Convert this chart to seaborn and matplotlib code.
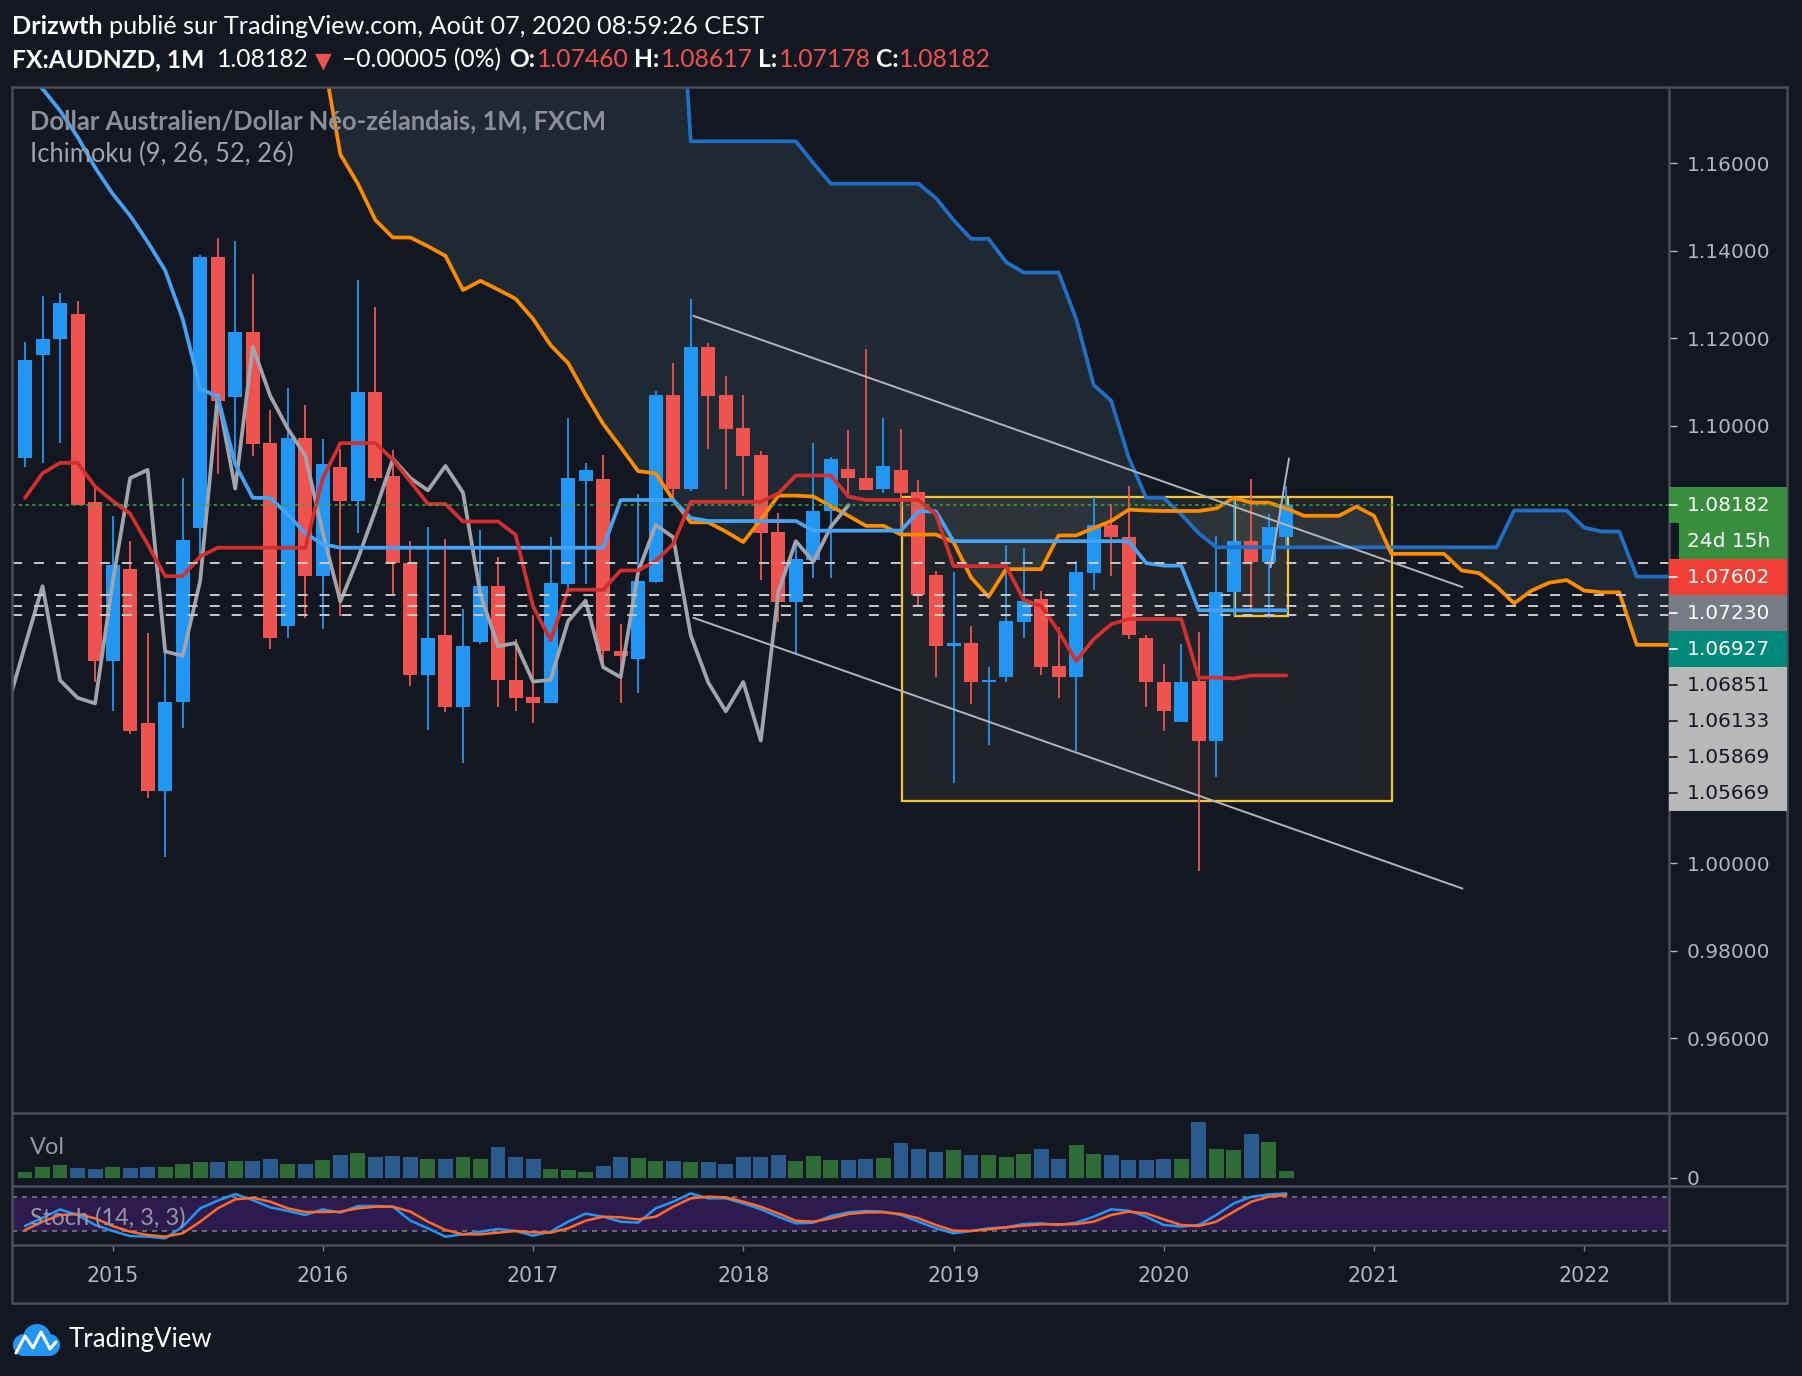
import numpy as np
import pandas as pd
import matplotlib
matplotlib.use("Agg")
import matplotlib.pyplot as plt
import seaborn as sns
from matplotlib.patches import Rectangle, Circle
from matplotlib.lines import Line2D

# ---------------- data ----------------
first_year, first_month = 2014, 8          # first candle: Aug 2014, monthly
opens = [1.0927, 1.1162, 1.1197, 1.1256, 1.0826, 1.0463, 1.0673, 1.0321, 1.0164, 1.0368,
         1.0765, 1.1386, 1.1066, 1.1214, 1.0960, 1.0543, 1.0972, 1.0657, 1.0906, 1.0827,
         1.1077, 1.0885, 1.0686, 1.0431, 1.0522, 1.0358, 1.0506, 1.0633, 1.0419, 1.0380,
         1.0365, 1.0639, 1.0874, 1.0879, 1.0485, 1.0466, 1.0643, 1.1070, 1.0855, 1.1180,
         1.1070, 1.0995, 1.0933, 1.0757, 1.0598, 1.0694, 1.0804, 1.0901, 1.0880, 1.0856,
         1.0899, 1.0849, 1.0659, 1.0496, 1.0503, 1.0413, 1.0425, 1.0552, 1.0604, 1.0451,
         1.0425, 1.0664, 1.0773, 1.0746, 1.0515, 1.0414, 1.0322, 1.0417, 1.0280, 1.0619,
         1.0736, 1.0689, 1.07460]
highs = [1.1191, 1.1296, 1.1304, 1.1286, 1.0867, 1.0794, 1.0736, 1.0527, 1.0515, 1.0880,
         1.1391, 1.1429, 1.1422, 1.1347, 1.1036, 1.1086, 1.1047, 1.0970, 1.0946, 1.1333,
         1.1271, 1.0945, 1.0736, 1.0768, 1.0741, 1.0581, 1.0762, 1.0700, 1.0513, 1.0568,
         1.0746, 1.1018, 1.0915, 1.0933, 1.0547, 1.0844, 1.1080, 1.1143, 1.1289, 1.1189,
         1.1113, 1.1070, 1.0942, 1.0801, 1.0727, 1.0960, 1.0929, 1.0990, 1.1176, 1.1018,
         1.0992, 1.0876, 1.0667, 1.0666, 1.0542, 1.0449, 1.0727, 1.0721, 1.0623, 1.0540,
         1.0691, 1.0838, 1.0821, 1.0862, 1.0522, 1.0455, 1.0501, 1.0528, 1.0748, 1.0829,
         1.0879, 1.0799, 1.08617]
lows = [1.0905, 1.0915, 1.0960, 1.0818, 1.0415, 1.0347, 1.0295, 1.0150, 1.0013, 1.0308,
        1.0701, 1.0890, 1.0914, 1.0931, 1.0490, 1.0514, 1.0561, 1.0535, 1.0564, 1.0754,
        1.0874, 1.0614, 1.0404, 1.0305, 1.0345, 1.0229, 1.0500, 1.0358, 1.0347, 1.0320,
        1.0365, 1.0624, 1.0637, 1.0460, 1.0365, 1.0390, 1.0641, 1.0830, 1.0850, 1.0946,
        1.0856, 1.0840, 1.0648, 1.0552, 1.0479, 1.0652, 1.0652, 1.0835, 1.0852, 1.0847,
        1.0749, 1.0585, 1.0426, 1.0184, 1.0364, 1.0269, 1.0415, 1.0515, 1.0431, 1.0377,
        1.0256, 1.0625, 1.0657, 1.0513, 1.0358, 1.0301, 1.0322, 0.9981, 1.0196, 1.0566,
        1.0577, 1.0560, 1.07178]
closes = [1.1150, 1.1198, 1.1281, 1.0818, 1.0463, 1.0681, 1.0301, 1.0164, 1.0369, 1.0739,
          1.1386, 1.1056, 1.1214, 1.0959, 1.0514, 1.0972, 1.0657, 1.0912, 1.0828, 1.1077,
          1.0881, 1.0685, 1.0431, 1.0515, 1.0358, 1.0497, 1.0633, 1.0418, 1.0378, 1.0365,
          1.0641, 1.0880, 1.0899, 1.0484, 1.0474, 1.0645, 1.1070, 1.0856, 1.1180, 1.1068,
          1.0993, 1.0931, 1.0755, 1.0598, 1.0696, 1.0806, 1.0924, 1.0880, 1.0852, 1.0908,
          1.0847, 1.0614, 1.0496, 1.0503, 1.0415, 1.0419, 1.0553, 1.0600, 1.0448, 1.0425,
          1.0666, 1.0773, 1.0745, 1.0521, 1.0413, 1.0347, 1.0414, 1.0280, 1.0620, 1.0736,
          1.0689, 1.0769, 1.08182]
volumes = [18, 33, 39, 30, 27, 33, 30, 33, 33, 42, 48, 48, 51, 51, 57, 42, 42, 54, 69, 75,
           63, 66, 63, 57, 57, 63, 57, 93, 63, 57, 27, 24, 18, 36, 63, 60, 51, 51, 48, 48,
           42, 63, 63, 69, 51, 66, 54, 54, 57, 60, 105, 87, 78, 84, 69, 69, 63, 72, 87, 57,
           99, 72, 69, 54, 54, 57, 57, 168, 87, 84, 132, 108, 21]
stoch_k = [28.7, 43, 57.8, 48, 30.5, 20, 11.2, 10.1, 7.2, 27.6, 59.6, 73, 84.6, 74.1, 61.3,
           55, 48, 57.9, 52, 63.7, 63.7, 62.5, 38, 24.7, 10.1, 14.2, 18.8, 23.5, 20, 11.8,
           18.8, 36.3, 50.3, 45, 36.3, 34.6, 59.6, 71.2, 85.8, 77.1, 77.1, 68.3, 57.9, 45,
           33.4, 34.6, 46.2, 52.6, 55, 53.8, 48, 36.3, 24.7, 16, 20, 24.7, 26.4, 32.2, 33.4,
           30.5, 34.6, 45, 57.9, 55.6, 45, 30.5, 27.6, 30.5, 48, 68.3, 80, 84, 85.8]
stoch_d = [21.8, 36.3, 48, 49.7, 42.1, 28.7, 18.8, 13, 10.1, 16, 36.3, 59.6, 75.3, 78.2, 71.2,
           59.6, 53.2, 53.2, 53.8, 59.6, 62.5, 62.5, 53.8, 36.3, 21.8, 14.2, 14.2, 17.1, 20,
           17.7, 17.1, 24.7, 38, 45, 43.9, 40.4, 45, 62.5, 77.1, 80, 78.8, 71.2, 62.5, 50.8,
           38, 36.3, 42.1, 49.7, 52.6, 52.6, 49.7, 42.1, 30.5, 20.6, 20, 22.9, 26.4, 29.3,
           31.6, 31.6, 32.2, 36.3, 48, 53.8, 50.8, 40.4, 30.5, 28.7, 36.3, 53.8, 71.2, 80, 82.9]
tenkan = [1.0835, 1.0891, 1.0915, 1.0915, 1.0861, 1.0828, 1.0799, 1.0729, 1.0656, 1.0656,
          1.0701, 1.0721, 1.0721, 1.0721, 1.0721, 1.0721, 1.0721, 1.0880, 1.0960, 1.0960,
          1.0960, 1.0922, 1.0872, 1.0821, 1.0821, 1.0781, 1.0781, 1.0781, 1.0751, 1.0587,
          1.0510, 1.0625, 1.0625, 1.0625, 1.0669, 1.0669, 1.0691, 1.0729, 1.0826, 1.0826,
          1.0826, 1.0826, 1.0826, 1.0845, 1.0886, 1.0886, 1.0886, 1.0838, 1.0830, 1.0830,
          1.0830, 1.0830, 1.0797, 1.0679, 1.0679, 1.0679, 1.0679, 1.0602, 1.0588, 1.0530,
          1.0462, 1.0512, 1.0546, 1.0558, 1.0558, 1.0558, 1.0558, 1.0424, 1.0424, 1.0422,
          1.0429, 1.0429, 1.0429]
kijun = ([1.1800, 1.1770, 1.1720, 1.1660, 1.1590, 1.1530, 1.1480, 1.1420, 1.1355, 1.1244,
          1.1085, 1.1066, 1.0912, 1.0835, 1.0835, 1.0797, 1.0754, 1.0729]
         + [1.0721] * 16 + [1.0830] * 4 + [1.0789] + [1.0782] * 6 + [1.0760] * 6
         + [1.0804] * 2 + [1.0736] * 11 + [1.0686, 1.0680, 1.0680] + [1.0578] * 6)
span_first = 15                              # month index of the first cloud point
senkou_a = [1.2200, 1.2000, 1.1850, 1.1620, 1.1553, 1.1470, 1.1430, 1.1430, 1.1410, 1.1388,
            1.1310, 1.1331, 1.1311, 1.1290, 1.1244, 1.1184, 1.1143, 1.1071, 1.1004, 1.0951,
            1.0896, 1.0891, 1.0830, 1.0779, 1.0779, 1.0758, 1.0734, 1.0785, 1.0840, 1.0840,
            1.0838, 1.0816, 1.0794, 1.0771, 1.0771, 1.0751, 1.0751, 1.0751, 1.0734, 1.0653,
            1.0609, 1.0672, 1.0672, 1.0672, 1.0749, 1.0749, 1.0766, 1.0782, 1.0808, 1.0806,
            1.0805, 1.0805, 1.0805, 1.0811, 1.0835, 1.0824, 1.0824, 1.0811, 1.0794, 1.0794,
            1.0794, 1.0815, 1.0794, 1.0707, 1.0707, 1.0707, 1.0707, 1.0669, 1.0663, 1.0632,
            1.0594, 1.0623, 1.0641, 1.0647, 1.0623, 1.0619, 1.0619, 1.0499, 1.0499, 1.0499]
senkou_b = ([1.2300] * 23 + [1.1650] * 7 + [1.1600] + [1.1553] * 6
            + [1.1520, 1.1470, 1.1427, 1.1427, 1.1374, 1.1350, 1.1350, 1.1350, 1.1244, 1.1093,
               1.1057, 1.0927, 1.0835, 1.0835, 1.0797, 1.0754]
            + [1.0722] * 17 + [1.0806] * 4 + [1.0767, 1.0758, 1.0758] + [1.0655] * 3)
chikou_displacement = 25
year_labels = ["2015", "2016", "2017", "2018", "2019", "2020", "2021", "2022"]
price_ticks = [0.96, 0.98, 1.00, 1.10, 1.12, 1.14, 1.16]   # others are under the labels
h_levels = [1.06851, 1.06133, 1.05869, 1.05669]
last_price = 1.08182
channel_upper = ([38.15, 82.05], [1.1251, 1.0631])
channel_lower = ([38.15, 82.05], [1.0561, 0.9942])
short_line = ([71.1, 72.15], [1.0676, 1.0925])
box_big = (50.05, 78.05, 1.0141, 1.0838)
box_small = (69.06, 72.1, 1.0565, 1.0838)
price_labels = [("1.08182", 1.08182, "#388e3c", "white", 0.0),
                ("24d 15h", None, "#388e3c", "white", 0.082),
                ("1.07602", 1.07602, "#f23f35", "white", 0.0),
                ("1.07230", 1.07230, "#787b86", "white", 0.0),
                ("1.06927", 1.06927, "#00897b", "white", 0.0),
                ("1.06851", 1.06851, "#b9b9b9", "#131722", 0.0),
                ("1.06133", 1.06133, "#b9b9b9", "#131722", 0.0),
                ("1.05869", 1.05869, "#b9b9b9", "#131722", 0.0),
                ("1.05669", 1.05669, "#b9b9b9", "#131722", 0.0)]

# ---------------- style ----------------
BG = "#131722"
BORDER = "#4a4d57"
AXTXT = "#b2b5be"
UP, DOWN = "#2196f3", "#ef5350"
sns.set_theme(style="dark", rc={"axes.facecolor": BG, "figure.facecolor": BG,
                                "savefig.facecolor": BG, "axes.grid": False})
FONT = ["Lato", "DejaVu Sans"]
plt.rcParams["font.family"] = FONT
AXFONT = ["DejaVu Sans"]

W, H = 1802, 1376
def fx(px):
    return px / W
def fy(py):
    return 1 - py / H

fig = plt.figure(figsize=(W / 100, H / 100), dpi=100)
LEFT, RIGHT, RIGHT_END = 12, 1669, 1787
TOP, MAIN_B, VOL_B, STO_B, XAX_B = 87, 1113, 1186, 1245, 1303
XLIM = (-0.742, 93.84)
YLIM = (0.9429, 1.1774)

ax = fig.add_axes([fx(LEFT), fy(MAIN_B), fx(RIGHT) - fx(LEFT), (MAIN_B - TOP) / H])
axv = fig.add_axes([fx(LEFT), fy(VOL_B), fx(RIGHT) - fx(LEFT), (VOL_B - MAIN_B) / H])
axs = fig.add_axes([fx(LEFT), fy(STO_B), fx(RIGHT) - fx(LEFT), (STO_B - VOL_B) / H])
axx = fig.add_axes([fx(LEFT), fy(XAX_B), fx(RIGHT) - fx(LEFT), (XAX_B - STO_B) / H])
axr = fig.add_axes([fx(RIGHT), fy(MAIN_B), fx(RIGHT_END) - fx(RIGHT), (MAIN_B - TOP) / H])
for a in (ax, axv, axs, axx, axr):
    a.set_facecolor(BG)
    for s in a.spines.values():
        s.set_visible(False)
    a.set_xlim(*XLIM)
axr.set_xlim(0, 1)
axr.set_zorder(10)
axr.patch.set_visible(False)

n = len(closes)
x = np.arange(n)
o, h, l, c = map(np.asarray, (opens, highs, lows, closes))
up = c >= o
ccol = np.where(up, UP, DOWN)

# ---- main panel ----
xs = np.arange(span_first, span_first + len(senkou_a))
ax.fill_between(xs, senkou_a, senkou_b, color="#1f2934", lw=0, zorder=1)
for (x0, x1, y0, y1) in (box_big, box_small):
    ax.add_patch(Rectangle((x0, y0), x1 - x0, y1 - y0, facecolor=(0.78, 0.72, 0.55, 0.08),
                           edgecolor="#f4c430", lw=1.6, zorder=1.5))
ax.vlines(x, l, h, colors=ccol, lw=1.3, zorder=3)
ax.bar(x, np.maximum(np.abs(c - o), 0.0004), bottom=np.minimum(o, c), width=0.8,
       color=ccol, linewidth=0, zorder=3.1)

LW = 2.7
sns.lineplot(x=xs, y=senkou_b, ax=ax, color="#1f6fc5", lw=LW, zorder=4, estimator=None)
sns.lineplot(x=xs, y=senkou_a, ax=ax, color="#fb8c00", lw=LW, zorder=4, estimator=None)
sns.lineplot(x=x - chikou_displacement, y=closes, ax=ax, color="#a3a3ab", lw=LW, zorder=4,
             estimator=None)
sns.lineplot(x=x, y=kijun, ax=ax, color="#45a3f3", lw=LW, zorder=4.1, estimator=None)
sns.lineplot(x=x, y=tenkan, ax=ax, color="#d32f2f", lw=LW, zorder=4.2, estimator=None)

for lv in h_levels:
    ax.axhline(lv, color="#c8c8c8", lw=1.4, ls=(0, (5.1, 6.2)), zorder=5)
ax.axhline(last_price, color="#43a047", lw=1.1, ls=(0, (2.2, 2.2)), zorder=5)
for (lx, ly) in (channel_upper, channel_lower, short_line):
    sns.lineplot(x=lx, y=ly, ax=ax, color="#b2b5be", lw=1.4, zorder=5, estimator=None)

ax.set_ylim(*YLIM)
ax.set_xticks([])
ax.yaxis.tick_right()
ax.set_yticks(price_ticks)
ax.set_yticklabels([f"{t:.5f}" for t in price_ticks], fontfamily=AXFONT)
ax.tick_params(axis="y", colors=AXTXT, labelsize=14.5, length=5.8, width=1, pad=7)
ax.set_xlabel("")
ax.set_ylabel("")

# ---- stacked price labels on the scale ----
axr.set_ylim(*YLIM)
axr.set_xticks([])
axr.set_yticks([])
lab_h = 36 / 4375
prev = None
for txt, val, fc, tc, x0 in price_labels:
    if val is None:
        cen = prev - lab_h
    elif prev is None:
        cen = val
    else:
        cen = min(val, prev - lab_h)
    axr.add_patch(Rectangle((x0, cen - lab_h / 2), 1 - x0, lab_h, facecolor=fc,
                            edgecolor="none", zorder=2))
    if val is not None:
        axr.plot([0, 0.065], [cen, cen], color=tc, lw=1.2, zorder=3)
    axr.text(0.155, cen, txt, color=tc, fontsize=14.5, fontfamily=AXFONT, va="center",
             ha="left", zorder=4)
    prev = cen

# ---- volume panel ----
axv.bar(x, volumes, width=0.85, color=np.where(up, "#2e6b37", "#2b5b8d"), linewidth=0)
axv.set_ylim(-24, 194)
axv.set_xticks([])
axv.yaxis.tick_right()
axv.set_yticks([0])
axv.set_yticklabels(["0"], fontfamily=AXFONT)
axv.tick_params(axis="y", colors=AXTXT, labelsize=14.5, length=5.8, width=1, pad=7)
axv.text(0.011, 0.53, "Vol", transform=axv.transAxes, color="#9598a1", fontsize=17,
         va="center", ha="left")

# ---- stochastic panel ----
axs.axhspan(20, 80, color="#2d1b4e", lw=0, zorder=0)
for lv in (20, 80):
    axs.axhline(lv, color="#787b86", lw=1.2, ls=(0, (3, 3)), zorder=1)
sns.lineplot(x=x, y=stoch_k, ax=axs, color="#2196f3", lw=1.8, zorder=3, estimator=None)
sns.lineplot(x=x, y=stoch_d, ax=axs, color="#ff6a2b", lw=1.8, zorder=3, estimator=None)
axs.set_ylim(-4.5, 98.7)
axs.set_xticks([])
axs.set_yticks([])
axs.set_xlabel("")
axs.set_ylabel("")
axs.text(0.011, 0.46, "Stoch (14, 3, 3)", transform=axs.transAxes, color="#9598a1",
         fontsize=17, va="center", ha="left", zorder=4)

# ---- time axis ----
year_pos = [(int(y) - first_year) * 12 + 1 - first_month for y in year_labels]
axx.set_ylim(0, 1)
axx.set_yticks([])
axx.set_xticks(year_pos)
axx.tick_params(axis="x", top=True, bottom=False, direction="in", length=4.5, width=1,
                colors="#787b86", labelbottom=False, labeltop=False)
for p, lab in zip(year_pos, year_labels):
    axx.text(p, 0.46, lab, color=AXTXT, fontsize=14.8, fontfamily=AXFONT, ha="center",
             va="center")

# ---- frame lines ----
for yy in (TOP, MAIN_B, VOL_B, STO_B, XAX_B):
    fig.add_artist(Line2D([fx(LEFT), fx(RIGHT_END)], [fy(yy), fy(yy)], color=BORDER, lw=1.8))
for xx in (LEFT, RIGHT, RIGHT_END):
    fig.add_artist(Line2D([fx(xx), fx(xx)], [fy(TOP), fy(XAX_B)], color=BORDER, lw=1.8))

# ---- header ----
renderer = fig.canvas.get_renderer()
def chain(pieces, x_px, base_px):
    for txt, kw, gap in pieces:
        t = fig.text(fx(x_px), fy(base_px), txt, va="baseline", ha="left", **kw)
        bb = t.get_window_extent(renderer=renderer)
        x_px = bb.x1 + gap

HDR = 18.2
HDR2 = 17.7
white = dict(color="white", fontsize=HDR)
bold = dict(color="white", fontsize=HDR, fontweight="bold")
white2 = dict(color="white", fontsize=HDR2)
bold2 = dict(color="white", fontsize=HDR2, fontweight="bold")
red2 = dict(color="#ef5350", fontsize=HDR2)
chain([("Drizwth", bold, 6),
       ("publié sur TradingView.com, Août 07, 2020 08:59:26 CEST", white, 0)], 12.5, 33.5)
chain([("FX:AUDNZD, 1M", bold2, 12),
       ("1.08182", white2, 6),
       ("▼", dict(color="#ef5350", fontsize=HDR2 - 2, family=["DejaVu Sans"]), 11),
       ("−0.00005 (0%)", white2, 8),
       ("O:", bold2, 1), ("1.07460", red2, 6),
       ("H:", bold2, 1), ("1.08617", red2, 6),
       ("L:", bold2, 1), ("1.07178", red2, 5),
       ("C:", bold2, 1), ("1.08182", red2, 0)], 12.5, 67)

fig.text(fx(30), fy(121), "Dollar Australien/Dollar Néo-zélandais, 1M, FXCM",
         color="#8c8f99", fontsize=18.4, fontweight="bold", va="center", ha="left")
fig.text(fx(30), fy(154), "Ichimoku (9, 26, 52, 26)", color="#a0a3ab", fontsize=18.4,
         va="center", ha="left")

# ---- TradingView logo ----
axl = fig.add_axes([fx(10), fy(1358), 52 / W, 36 / H])
axl.set_xlim(0, 52)
axl.set_ylim(0, 36)
axl.axis("off")
for (cx, cy, r) in ((14, 13, 11), (27, 20, 14), (39, 13, 11)):
    axl.add_patch(Circle((cx, cy), r, color="#2196f3", lw=0))
axl.add_patch(Rectangle((12, 2), 28, 12, color="#2196f3", lw=0))
axl.plot([6, 15, 23, 31, 40, 46], [5, 22, 10, 26, 9, 16], color="white", lw=2.2,
         solid_capstyle="round")
fig.text(fx(69), fy(1340), "TradingView", color="white", fontsize=18.5, va="center",
         ha="left")

fig.savefig("out.png", dpi=100, facecolor=BG)
